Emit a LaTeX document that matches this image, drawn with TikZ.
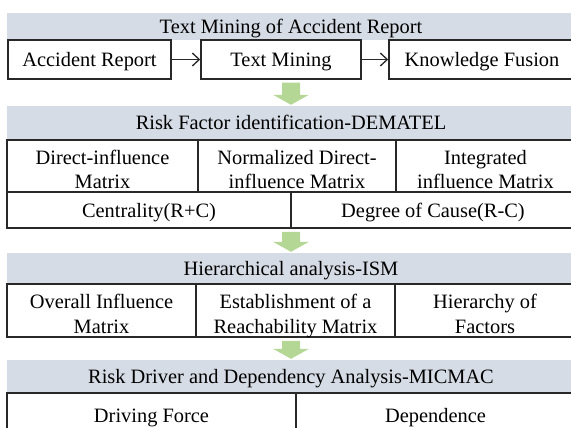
\documentclass[tikz,border=0pt]{standalone}
\usepackage{fontspec}
\setmainfont{Liberation Serif}
\usetikzlibrary{arrows.meta,calc}
\definecolor{bandcolor}{RGB}{214,220,229}
\definecolor{flowcolor}{RGB}{181,215,150}
\definecolor{rulecolor}{RGB}{40,40,40}

\begin{document}
\begin{tikzpicture}[
  x=1pt,y=-1pt,
  >={Straight Barb[length=7pt,width=13pt]},
  band/.style={rectangle,fill=bandcolor,inner sep=0pt,
               minimum width=568pt,minimum height=#1,
               text height=16pt,text depth=2pt,
               font=\fontsize{20.4}{24.5}\selectfont},
  cell/.style 2 args={rectangle,draw=rulecolor,line width=1.5pt,inner sep=0pt,
               minimum width=#1,minimum height=#2,align=center,
               text height=16pt,text depth=2pt,
               font=\fontsize{20.4}{24.5}\selectfont},
  twoline/.style={text height=45pt,text depth=0pt},
  link/.style={->,line width=1.3pt,rulecolor},
  flow/.style={fill=flowcolor}
]
\useasboundingbox (0,0) rectangle (571,428);
\clip (0,0) rectangle (571,428);
%% Bands
\node[band=27pt] (B1) at (291,26.5)  {Text Mining of Accident Report};
\node[band=34pt] (B2) at (291,123)   {Risk Factor identification-DEMATEL};
\node[band=31pt] (B3) at (291,268.5) {Hierarchical analysis-ISM};
\node[band=33pt] (B4) at (291,376.5) {Risk Driver and Dependency Analysis-MICMAC};
%% Text mining
\node[cell={163pt}{39pt}] (AR) at (89.5,59.5) {Accident Report};
\node[cell={160pt}{39pt}] (TM) at (281,59.5)  {Text Mining};
\node[cell={186pt}{39pt}] (KF) at (482,59.5)  {Knowledge Fusion};
\draw[link] (AR) -- (TM);
\draw[link] (TM) -- (KF);
%% DEMATEL
\node[cell={191pt}{52pt},twoline] (D1) at (102.5,166) {Direct-influence\\Matrix};
\node[cell={198pt}{52pt},twoline] (D2) at (297,166)   {Normalized Direct-\\influence Matrix};
\node[cell={179pt}{52pt},twoline] (D3) at (485.5,166) {Integrated\\influence Matrix};
\node[cell={284pt}{36pt}] (CR) at (149,210)   {Centrality(R+C)};
\node[cell={284pt}{36pt}] (DC) at (433,210)   {Degree of Cause(R-C)};
%% ISM
\node[cell={189pt}{53pt},twoline] (I1) at (101.5,310.5) {Overall Influence\\Matrix};
\node[cell={199pt}{53pt},twoline] (I2) at (295.5,310.5) {Establishment of a\\Reachability Matrix};
\node[cell={180pt}{53pt},twoline] (I3) at (485,310.5)   {Hierarchy of\\Factors};
%% MICMAC
\node[cell={289pt}{44pt}] (DF) at (151.5,415) {Driving Force};
\node[cell={279pt}{44pt}] (DP) at (435.5,415) {Dependence};
%% Flow arrows between stages
\foreach \a/\b in {TM/B2,CR/B3,I2/B4}
  \fill[flow] ($(\b.north|-\a.south)+(-9,3)$) -- ($(\b.north|-\a.south)+(9,3)$)
    -- ($(\b.north)+(9,-11)$) -- ($(\b.north)+(18,-11)$) -- ($(\b.north)+(0,-1)$)
    -- ($(\b.north)+(-18,-11)$) -- ($(\b.north)+(-9,-11)$) -- cycle;
\end{tikzpicture}
\end{document}
